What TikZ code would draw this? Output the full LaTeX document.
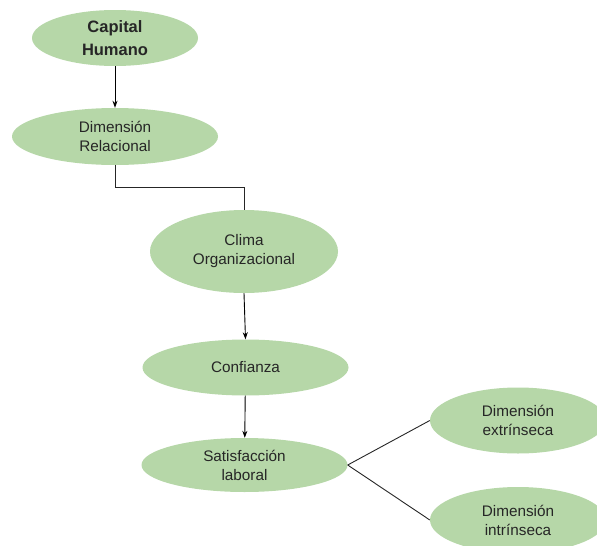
\documentclass[tikz,border=0pt]{standalone}
\usepackage{fontspec}
\setmainfont{Liberation Sans}
\usepackage{tikz}
\usetikzlibrary{shapes,arrows.meta,positioning}
\definecolor{leafgreen}{HTML}{B6D7A8}
\definecolor{inkgray}{HTML}{262626}

\begin{document}
\begin{tikzpicture}[
    x=1pt, y=-1pt,
    bubble/.style={ellipse, fill=leafgreen, draw=none, inner sep=0pt, align=center, text=inkgray, font=\fontsize{15.3}{19}\selectfont},
    topbubble/.style={bubble, font=\fontsize{16.5}{22.5}\selectfont\bfseries},
    flow/.style={draw=black, line width=0.9pt, -{Stealth[length=7pt,width=5pt]}},
    link/.style={draw=black!85, line width=0.9pt}
]

% page frame
\useasboundingbox (0,0) rectangle (597,546);
\clip (0,0) rectangle (597,546);

% main chain
\node[topbubble, minimum width=166pt, minimum height=56pt] (capital) at (115, 38) {Capital\\Humano};
\node[bubble, minimum width=206pt, minimum height=57pt] (dimrel) at (115, 136.5) {Dimensión\\Relacional};
\node[bubble, minimum width=188pt, minimum height=83pt] (clima) at (244, 251.5) {Clima\\Organizacional};
\node[bubble, minimum width=206pt, minimum height=56pt] (confianza) at (245.5, 367.5) {Confianza};
\node[bubble, minimum width=206pt, minimum height=54pt] (satis) at (244.5, 465) {Satisfacción\\laboral};

% dimensions of satisfaction
\node[bubble, minimum width=176pt, minimum height=66pt] (extr) at (518, 420.5) {Dimensión\\extrínseca};
\node[bubble, minimum width=176pt, minimum height=66pt] (intr) at (518, 520) {Dimensión\\intrínseca};

% connections
\draw[flow] (capital) -- (dimrel);
\draw[link] (dimrel.south) -- ++(0,22) -| (clima.north);
\draw[flow] (clima.south) -- (confianza.north);
\draw[flow] (confianza) -- (satis);
\draw[link] (satis.east) -- (extr.west);
\draw[link] (satis.east) -- (intr.west);

\end{tikzpicture}
\end{document}
